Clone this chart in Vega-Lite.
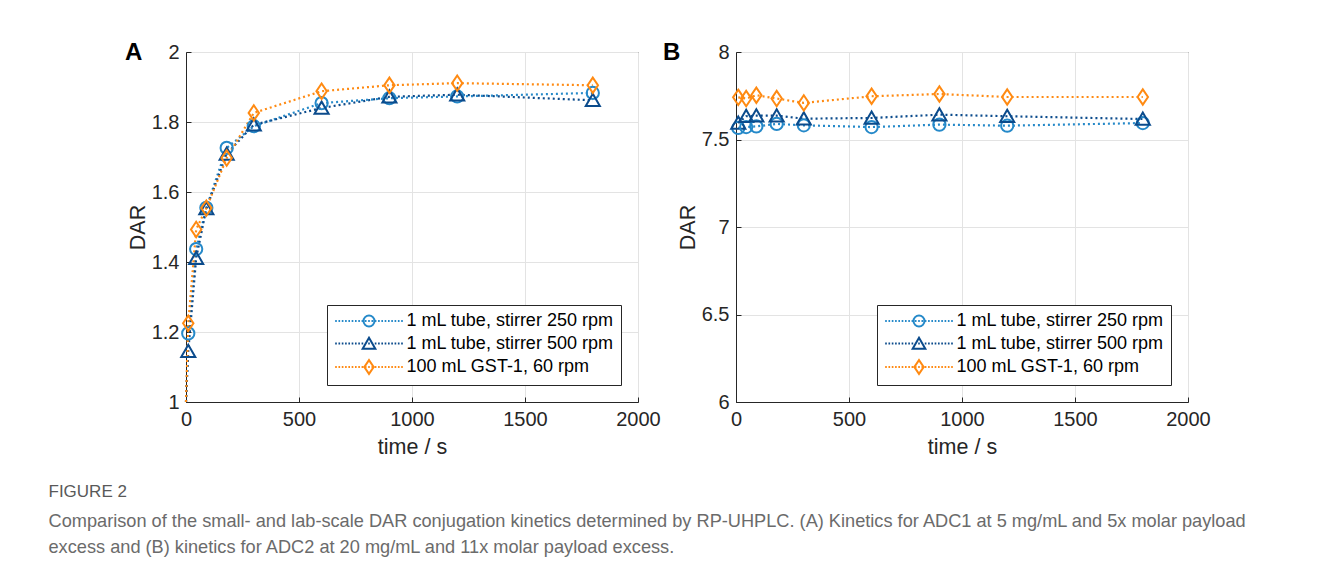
{
  "$schema": "https://vega.github.io/schema/vega-lite/v6.json",
  "background": "white",
  "padding": {"left": 48, "top": 40, "right": 0, "bottom": 0},
  "config": {
    "font": "Liberation Sans",
    "view": {"stroke": "#262626", "strokeWidth": 1},
    "axis": {
      "domainColor": "#262626", "labelColor": "#262626", "titleColor": "#262626",
      "labelFont": "Liberation Sans", "titleFont": "Liberation Sans",
      "labelFontSize": 20, "titleFontSize": 21.5, "titleFontWeight": "normal",
      "gridColor": "#e3e3e3", "tickColor": "#262626", "ticks": true, "tickSize": -5, "labelPadding": 12, "labelFlush": false
    },
    "legend": {
      "orient": "bottom-right", "offset": 17, "padding": 7,
      "strokeColor": "#262626", "fillColor": "white", "cornerRadius": 0,
      "labelFont": "Liberation Sans", "labelFontSize": 18, "labelColor": "black", "labelLimit": 400,
      "symbolSize": 121, "symbolStrokeWidth": 2, "symbolOffset": 26, "labelOffset": 28.5, "rowPadding": 2.5
    },
    "concat": {"spacing": 1}
  },
  "data": {"values": [
    {"panel": "A", "series": "1 mL tube, stirrer 250 rpm", "t": 0, "dar": 1.0},
    {"panel": "A", "series": "1 mL tube, stirrer 500 rpm", "t": 0, "dar": 1.0},
    {"panel": "A", "series": "100 mL GST-1, 60 rpm", "t": 0, "dar": 1.0},
    {"panel": "A", "series": "1 mL tube, stirrer 250 rpm", "t": 10, "dar": 1.196},
    {"panel": "A", "series": "1 mL tube, stirrer 500 rpm", "t": 10, "dar": 1.145},
    {"panel": "A", "series": "100 mL GST-1, 60 rpm", "t": 10, "dar": 1.225},
    {"panel": "A", "series": "1 mL tube, stirrer 250 rpm", "t": 45, "dar": 1.437},
    {"panel": "A", "series": "1 mL tube, stirrer 500 rpm", "t": 45, "dar": 1.411},
    {"panel": "A", "series": "100 mL GST-1, 60 rpm", "t": 45, "dar": 1.493},
    {"panel": "A", "series": "1 mL tube, stirrer 250 rpm", "t": 90, "dar": 1.555},
    {"panel": "A", "series": "1 mL tube, stirrer 500 rpm", "t": 90, "dar": 1.553},
    {"panel": "A", "series": "100 mL GST-1, 60 rpm", "t": 90, "dar": 1.554},
    {"panel": "A", "series": "1 mL tube, stirrer 250 rpm", "t": 180, "dar": 1.726},
    {"panel": "A", "series": "1 mL tube, stirrer 500 rpm", "t": 180, "dar": 1.709},
    {"panel": "A", "series": "100 mL GST-1, 60 rpm", "t": 180, "dar": 1.697},
    {"panel": "A", "series": "1 mL tube, stirrer 250 rpm", "t": 300, "dar": 1.788},
    {"panel": "A", "series": "1 mL tube, stirrer 500 rpm", "t": 300, "dar": 1.792},
    {"panel": "A", "series": "100 mL GST-1, 60 rpm", "t": 300, "dar": 1.826},
    {"panel": "A", "series": "1 mL tube, stirrer 250 rpm", "t": 600, "dar": 1.854},
    {"panel": "A", "series": "1 mL tube, stirrer 500 rpm", "t": 600, "dar": 1.84},
    {"panel": "A", "series": "100 mL GST-1, 60 rpm", "t": 600, "dar": 1.888},
    {"panel": "A", "series": "1 mL tube, stirrer 250 rpm", "t": 900, "dar": 1.868},
    {"panel": "A", "series": "1 mL tube, stirrer 500 rpm", "t": 900, "dar": 1.872},
    {"panel": "A", "series": "100 mL GST-1, 60 rpm", "t": 900, "dar": 1.905},
    {"panel": "A", "series": "1 mL tube, stirrer 250 rpm", "t": 1200, "dar": 1.873},
    {"panel": "A", "series": "1 mL tube, stirrer 500 rpm", "t": 1200, "dar": 1.878},
    {"panel": "A", "series": "100 mL GST-1, 60 rpm", "t": 1200, "dar": 1.911},
    {"panel": "A", "series": "1 mL tube, stirrer 250 rpm", "t": 1800, "dar": 1.883},
    {"panel": "A", "series": "1 mL tube, stirrer 500 rpm", "t": 1800, "dar": 1.862},
    {"panel": "A", "series": "100 mL GST-1, 60 rpm", "t": 1800, "dar": 1.905},
    {"panel": "B", "series": "1 mL tube, stirrer 250 rpm", "t": 10, "dar": 7.566},
    {"panel": "B", "series": "1 mL tube, stirrer 500 rpm", "t": 10, "dar": 7.594},
    {"panel": "B", "series": "100 mL GST-1, 60 rpm", "t": 10, "dar": 7.741},
    {"panel": "B", "series": "1 mL tube, stirrer 250 rpm", "t": 45, "dar": 7.571},
    {"panel": "B", "series": "1 mL tube, stirrer 500 rpm", "t": 45, "dar": 7.633},
    {"panel": "B", "series": "100 mL GST-1, 60 rpm", "t": 45, "dar": 7.734},
    {"panel": "B", "series": "1 mL tube, stirrer 250 rpm", "t": 90, "dar": 7.575},
    {"panel": "B", "series": "1 mL tube, stirrer 500 rpm", "t": 90, "dar": 7.636},
    {"panel": "B", "series": "100 mL GST-1, 60 rpm", "t": 90, "dar": 7.753},
    {"panel": "B", "series": "1 mL tube, stirrer 250 rpm", "t": 180, "dar": 7.589},
    {"panel": "B", "series": "1 mL tube, stirrer 500 rpm", "t": 180, "dar": 7.636},
    {"panel": "B", "series": "100 mL GST-1, 60 rpm", "t": 180, "dar": 7.734},
    {"panel": "B", "series": "1 mL tube, stirrer 250 rpm", "t": 300, "dar": 7.581},
    {"panel": "B", "series": "1 mL tube, stirrer 500 rpm", "t": 300, "dar": 7.619},
    {"panel": "B", "series": "100 mL GST-1, 60 rpm", "t": 300, "dar": 7.709},
    {"panel": "B", "series": "1 mL tube, stirrer 250 rpm", "t": 600, "dar": 7.571},
    {"panel": "B", "series": "1 mL tube, stirrer 500 rpm", "t": 600, "dar": 7.623},
    {"panel": "B", "series": "100 mL GST-1, 60 rpm", "t": 600, "dar": 7.747},
    {"panel": "B", "series": "1 mL tube, stirrer 250 rpm", "t": 900, "dar": 7.585},
    {"panel": "B", "series": "1 mL tube, stirrer 500 rpm", "t": 900, "dar": 7.642},
    {"panel": "B", "series": "100 mL GST-1, 60 rpm", "t": 900, "dar": 7.76},
    {"panel": "B", "series": "1 mL tube, stirrer 250 rpm", "t": 1200, "dar": 7.579},
    {"panel": "B", "series": "1 mL tube, stirrer 500 rpm", "t": 1200, "dar": 7.633},
    {"panel": "B", "series": "100 mL GST-1, 60 rpm", "t": 1200, "dar": 7.743},
    {"panel": "B", "series": "1 mL tube, stirrer 250 rpm", "t": 1800, "dar": 7.594},
    {"panel": "B", "series": "1 mL tube, stirrer 500 rpm", "t": 1800, "dar": 7.617},
    {"panel": "B", "series": "100 mL GST-1, 60 rpm", "t": 1800, "dar": 7.743}
  ]},
  "title": {
    "text": "FIGURE 2", "orient": "bottom", "anchor": "start", "frame": "bounds",
    "font": "Liberation Sans", "fontSize": 17, "fontWeight": "normal", "color": "#595959",
    "dx": -76, "offset": 26,
    "subtitle": [
      "Comparison of the small- and lab-scale DAR conjugation kinetics determined by RP-UHPLC. (A) Kinetics for ADC1 at 5 mg/mL and 5x molar payload",
      "excess and (B) kinetics for ADC2 at 20 mg/mL and 11x molar payload excess."
    ],
    "subtitleFont": "Liberation Sans", "subtitleFontSize": 18.2, "subtitleColor": "#6b6b6b",
    "subtitlePadding": 12, "subtitleLineHeight": 26
  },
  "hconcat": [
    {
      "width": 452, "height": 350,
      "title": {"text": "A", "anchor": "start", "frame": "group", "fontSize": 24, "fontWeight": "bold", "color": "black", "dx": -61, "dy": 39, "baseline": "middle", "font": "Liberation Sans"},
      "transform": [{"filter": "datum.panel === 'A'"}],
      "encoding": {
        "x": {"field": "t", "type": "quantitative", "scale": {"domain": [0, 2000], "nice": false}, "axis": {"values": [0, 500, 1000, 1500, 2000], "format": "d", "title": "time / s", "titlePadding": 7}},
        "y": {"field": "dar", "type": "quantitative", "scale": {"domain": [1, 2], "nice": false, "zero": false}, "axis": {"values": [1, 1.2, 1.4, 1.6, 1.8, 2], "format": "~g", "title": "DAR", "titlePadding": 2}}
      },
      "layer": [
        {
          "mark": {"type": "line", "strokeDash": [2, 3], "strokeWidth": 2.2},
          "encoding": {
            "color": {"field": "series", "type": "nominal", "scale": {"domain": ["1 mL tube, stirrer 250 rpm", "1 mL tube, stirrer 500 rpm", "100 mL GST-1, 60 rpm"], "range": ["#2589c9", "#0b4b8c", "#ff8a12"]}, "legend": null}
          }
        },
        {
          "transform": [{"filter": "datum.t > 0"}],
          "mark": {"type": "point", "filled": false, "strokeWidth": 2, "size": 150, "opacity": 1},
          "encoding": {
            "color": {"field": "series", "type": "nominal", "scale": {"domain": ["1 mL tube, stirrer 250 rpm", "1 mL tube, stirrer 500 rpm", "100 mL GST-1, 60 rpm"], "range": ["#2589c9", "#0b4b8c", "#ff8a12"]}, "legend": null},
            "shape": {"field": "series", "type": "nominal", "scale": {"domain": ["1 mL tube, stirrer 250 rpm", "1 mL tube, stirrer 500 rpm", "100 mL GST-1, 60 rpm"], "range": ["M-1,0A1,1 0 1,0 1,0A1,1 0 1,0 -1,0Z", "M0,-1.05L1.15,0.95L-1.15,0.95Z", "M0,-1.25L0.85,0L0,1.25L-0.85,0Z"]}, "legend": null}
          }
        },
        {
          "transform": [{"filter": "datum.t < 0"}],
          "mark": {"type": "point", "filled": false, "strokeWidth": 2, "opacity": 1},
          "encoding": {
            "color": {"field": "series", "type": "nominal", "scale": {"domain": ["1 mL tube, stirrer 250 rpm", "1 mL tube, stirrer 500 rpm", "100 mL GST-1, 60 rpm"], "range": ["#2589c9", "#0b4b8c", "#ff8a12"]}, "legend": {"title": null, "orient": "bottom-right"}},
            "shape": {"field": "series", "type": "nominal", "scale": {"domain": ["1 mL tube, stirrer 250 rpm", "1 mL tube, stirrer 500 rpm", "100 mL GST-1, 60 rpm"], "range": [
              "M-6.15,0h0.3M-5.55,0h0.3M-4.95,0h0.3M-4.35,0h0.3M-3.75,0h0.3M-3.15,0h0.3M-2.55,0h0.3M-1.95,0h0.3M-1.35,0h0.3M-0.75,0h0.3M-0.15,0h0.3M0.45,0h0.3M1.05,0h0.3M1.65,0h0.3M2.25,0h0.3M2.85,0h0.3M3.45,0h0.3M4.05,0h0.3M4.65,0h0.3M5.25,0h0.3M5.85,0h0.3M-1,0A1,1 0 1,0 1,0A1,1 0 1,0 -1,0Z",
              "M-6.15,0h0.3M-5.55,0h0.3M-4.95,0h0.3M-4.35,0h0.3M-3.75,0h0.3M-3.15,0h0.3M-2.55,0h0.3M-1.95,0h0.3M-1.35,0h0.3M-0.75,0h0.3M-0.15,0h0.3M0.45,0h0.3M1.05,0h0.3M1.65,0h0.3M2.25,0h0.3M2.85,0h0.3M3.45,0h0.3M4.05,0h0.3M4.65,0h0.3M5.25,0h0.3M5.85,0h0.3M0,-1.05L1.15,0.95L-1.15,0.95Z",
              "M-6.15,0h0.3M-5.55,0h0.3M-4.95,0h0.3M-4.35,0h0.3M-3.75,0h0.3M-3.15,0h0.3M-2.55,0h0.3M-1.95,0h0.3M-1.35,0h0.3M-0.75,0h0.3M-0.15,0h0.3M0.45,0h0.3M1.05,0h0.3M1.65,0h0.3M2.25,0h0.3M2.85,0h0.3M3.45,0h0.3M4.05,0h0.3M4.65,0h0.3M5.25,0h0.3M5.85,0h0.3M0,-1.25L0.85,0L0,1.25L-0.85,0Z"
            ]}, "legend": {"title": null, "orient": "bottom-right"}}
          }
        }
      ],
      "resolve": {"scale": {"color": "independent", "shape": "independent"}}
    },
    {
      "width": 452, "height": 350,
      "title": {"text": "B", "anchor": "start", "frame": "group", "fontSize": 24, "fontWeight": "bold", "color": "black", "dx": -73, "dy": 39, "baseline": "middle", "font": "Liberation Sans"},
      "transform": [{"filter": "datum.panel === 'B'"}],
      "encoding": {
        "x": {"field": "t", "type": "quantitative", "scale": {"domain": [0, 2000], "nice": false}, "axis": {"values": [0, 500, 1000, 1500, 2000], "format": "d", "title": "time / s", "titlePadding": 7}},
        "y": {"field": "dar", "type": "quantitative", "scale": {"domain": [6, 8], "nice": false, "zero": false}, "axis": {"values": [6, 6.5, 7, 7.5, 8], "format": "~g", "title": "DAR", "titlePadding": 2}}
      },
      "layer": [
        {
          "mark": {"type": "line", "strokeDash": [2, 3], "strokeWidth": 2.2},
          "encoding": {
            "color": {"field": "series", "type": "nominal", "scale": {"domain": ["1 mL tube, stirrer 250 rpm", "1 mL tube, stirrer 500 rpm", "100 mL GST-1, 60 rpm"], "range": ["#2589c9", "#0b4b8c", "#ff8a12"]}, "legend": null}
          }
        },
        {
          "transform": [{"filter": "datum.t > 0"}],
          "mark": {"type": "point", "filled": false, "strokeWidth": 2, "size": 150, "opacity": 1},
          "encoding": {
            "color": {"field": "series", "type": "nominal", "scale": {"domain": ["1 mL tube, stirrer 250 rpm", "1 mL tube, stirrer 500 rpm", "100 mL GST-1, 60 rpm"], "range": ["#2589c9", "#0b4b8c", "#ff8a12"]}, "legend": null},
            "shape": {"field": "series", "type": "nominal", "scale": {"domain": ["1 mL tube, stirrer 250 rpm", "1 mL tube, stirrer 500 rpm", "100 mL GST-1, 60 rpm"], "range": ["M-1,0A1,1 0 1,0 1,0A1,1 0 1,0 -1,0Z", "M0,-1.05L1.15,0.95L-1.15,0.95Z", "M0,-1.25L0.85,0L0,1.25L-0.85,0Z"]}, "legend": null}
          }
        },
        {
          "transform": [{"filter": "datum.t < 0"}],
          "mark": {"type": "point", "filled": false, "strokeWidth": 2, "opacity": 1},
          "encoding": {
            "color": {"field": "series", "type": "nominal", "scale": {"domain": ["1 mL tube, stirrer 250 rpm", "1 mL tube, stirrer 500 rpm", "100 mL GST-1, 60 rpm"], "range": ["#2589c9", "#0b4b8c", "#ff8a12"]}, "legend": {"title": null, "orient": "bottom-right"}},
            "shape": {"field": "series", "type": "nominal", "scale": {"domain": ["1 mL tube, stirrer 250 rpm", "1 mL tube, stirrer 500 rpm", "100 mL GST-1, 60 rpm"], "range": [
              "M-6.15,0h0.3M-5.55,0h0.3M-4.95,0h0.3M-4.35,0h0.3M-3.75,0h0.3M-3.15,0h0.3M-2.55,0h0.3M-1.95,0h0.3M-1.35,0h0.3M-0.75,0h0.3M-0.15,0h0.3M0.45,0h0.3M1.05,0h0.3M1.65,0h0.3M2.25,0h0.3M2.85,0h0.3M3.45,0h0.3M4.05,0h0.3M4.65,0h0.3M5.25,0h0.3M5.85,0h0.3M-1,0A1,1 0 1,0 1,0A1,1 0 1,0 -1,0Z",
              "M-6.15,0h0.3M-5.55,0h0.3M-4.95,0h0.3M-4.35,0h0.3M-3.75,0h0.3M-3.15,0h0.3M-2.55,0h0.3M-1.95,0h0.3M-1.35,0h0.3M-0.75,0h0.3M-0.15,0h0.3M0.45,0h0.3M1.05,0h0.3M1.65,0h0.3M2.25,0h0.3M2.85,0h0.3M3.45,0h0.3M4.05,0h0.3M4.65,0h0.3M5.25,0h0.3M5.85,0h0.3M0,-1.05L1.15,0.95L-1.15,0.95Z",
              "M-6.15,0h0.3M-5.55,0h0.3M-4.95,0h0.3M-4.35,0h0.3M-3.75,0h0.3M-3.15,0h0.3M-2.55,0h0.3M-1.95,0h0.3M-1.35,0h0.3M-0.75,0h0.3M-0.15,0h0.3M0.45,0h0.3M1.05,0h0.3M1.65,0h0.3M2.25,0h0.3M2.85,0h0.3M3.45,0h0.3M4.05,0h0.3M4.65,0h0.3M5.25,0h0.3M5.85,0h0.3M0,-1.25L0.85,0L0,1.25L-0.85,0Z"
            ]}, "legend": {"title": null, "orient": "bottom-right"}}
          }
        }
      ],
      "resolve": {"scale": {"color": "independent", "shape": "independent"}}
    }
  ],
  "resolve": {"scale": {"color": "independent", "shape": "independent", "x": "independent", "y": "independent"}, "legend": {"color": "independent", "shape": "independent"}}
}
